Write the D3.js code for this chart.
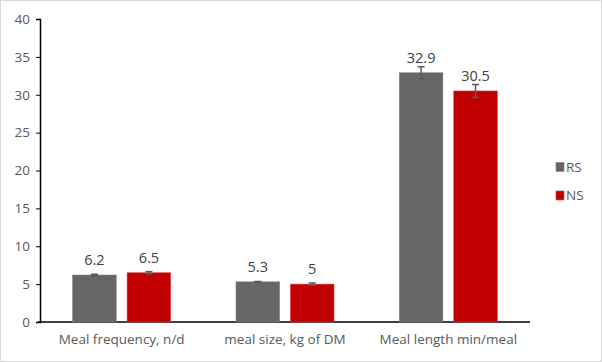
<!DOCTYPE html>
<html><head><meta charset="utf-8">
<script src="https://cdn.jsdelivr.net/npm/d3@7"></script>
<style>body{margin:0;background:#fff}svg{display:block}</style>
</head><body>
<script>
const categories = ["Meal frequency, n/d", "meal size, kg of DM", "Meal length min/meal"];
const seriesNames = ["RS", "NS"];
const rsValues = [6.2, 5.3, 32.9];
const nsValues = [6.5, 5.0, 30.5];
const rsErrors = [0.1, 0.05, 0.8];
const nsErrors = [0.15, 0.15, 0.85];
const dataLabels = [["6.2", "5.3", "32.9"], ["6.5", "5", "30.5"]];
const yTicks = [0, 5, 10, 15, 20, 25, 30, 35, 40];
const colors = ["#666666", "#C00000"];

(function () {
const W = 602, H = 362;
const svg = d3.select("body").append("svg").attr("width", W).attr("height", H);
svg.append("rect").attr("x", 0.5).attr("y", 0.5).attr("width", W - 1).attr("height", H - 1)
  .attr("fill", "#fff").attr("stroke", "#d9d9d9");

const font = "'Open Sans', 'Liberation Sans', sans-serif";
const pLeft = 40, pRight = 530, pTop = 19, pBottom = 322;
const y = d3.scaleLinear().domain([0, 40]).range([pBottom, pTop]);
const x0 = d3.scaleBand().domain(categories).range([pLeft, pRight]).paddingInner(0).paddingOuter(0);
const groupInner = 98;
const x1 = d3.scaleBand().domain(seriesNames).range([0, groupInner]).paddingInner(0.2).paddingOuter(0);

const yAxis = d3.axisLeft(y).tickValues(yTicks).tickSize(4).tickPadding(6);
const gy = svg.append("g").attr("transform", `translate(${pLeft},0)`).call(yAxis);
gy.select(".domain").attr("stroke", "#000").attr("stroke-width", 1.5);
gy.selectAll(".tick line").attr("stroke", "#000");
gy.selectAll(".tick text").attr("fill", "#595959").style("font-family", font).style("font-size", "13.5px");

const xAxis = d3.axisBottom(x0).tickSize(0).tickPadding(12);
const gx = svg.append("g").attr("transform", `translate(0,${pBottom})`).call(xAxis);
gx.select(".domain").attr("stroke", "#000").attr("stroke-width", 1.5).attr("d", `M${pLeft - 2},0H${pRight}`);
gx.selectAll(".tick text").attr("fill", "#595959").style("font-family", font).style("font-size", "13.5px");

const seriesVals = [rsValues, nsValues];
const seriesErr = [rsErrors, nsErrors];
seriesNames.forEach((s, si) => {
  const g = svg.append("g");
  categories.forEach((c, ci) => {
    const gx0 = x0(c) + (x0.bandwidth() - groupInner) / 2;
    const bx = gx0 + x1(s);
    const v = seriesVals[si][ci];
    g.append("rect").attr("x", bx).attr("y", y(v)).attr("width", x1.bandwidth())
      .attr("height", y(0) - y(v)).attr("fill", colors[si])
      .attr("stroke", si === 0 ? "#7f7f7f" : "#e04040").attr("stroke-width", 0.6);
    const cx = bx + x1.bandwidth() / 2;
    const e = seriesErr[si][ci];
    const eb = svg.append("g").attr("stroke", "#595959").attr("stroke-width", 1.5);
    eb.append("line").attr("x1", cx).attr("x2", cx).attr("y1", y(v + e)).attr("y2", y(v - e));
    eb.append("line").attr("x1", cx - 3.5).attr("x2", cx + 3.5).attr("y1", y(v + e)).attr("y2", y(v + e));
    eb.append("line").attr("x1", cx - 3.5).attr("x2", cx + 3.5).attr("y1", y(v - e)).attr("y2", y(v - e));
    svg.append("text").attr("x", cx).attr("y", y(v) - 10).attr("text-anchor", "middle")
      .attr("fill", "#404040").style("font-family", font).style("font-size", "14.5px")
      .text(dataLabels[si][ci]);
  });
});

const leg = svg.append("g");
seriesNames.forEach((s, i) => {
  const ly = 167 + i * 28.5;
  leg.append("rect").attr("x", 556).attr("y", ly - 4.5).attr("width", 8).attr("height", 9)
    .attr("fill", colors[i]).attr("stroke", i === 0 ? "#7f7f7f" : "#e04040").attr("stroke-width", 0.6);
  leg.append("text").attr("x", 566).attr("y", ly).attr("dy", "0.35em")
    .attr("fill", "#595959").style("font-family", font).style("font-size", "13.5px").text(s);
});
})();
</script>
</body></html>
